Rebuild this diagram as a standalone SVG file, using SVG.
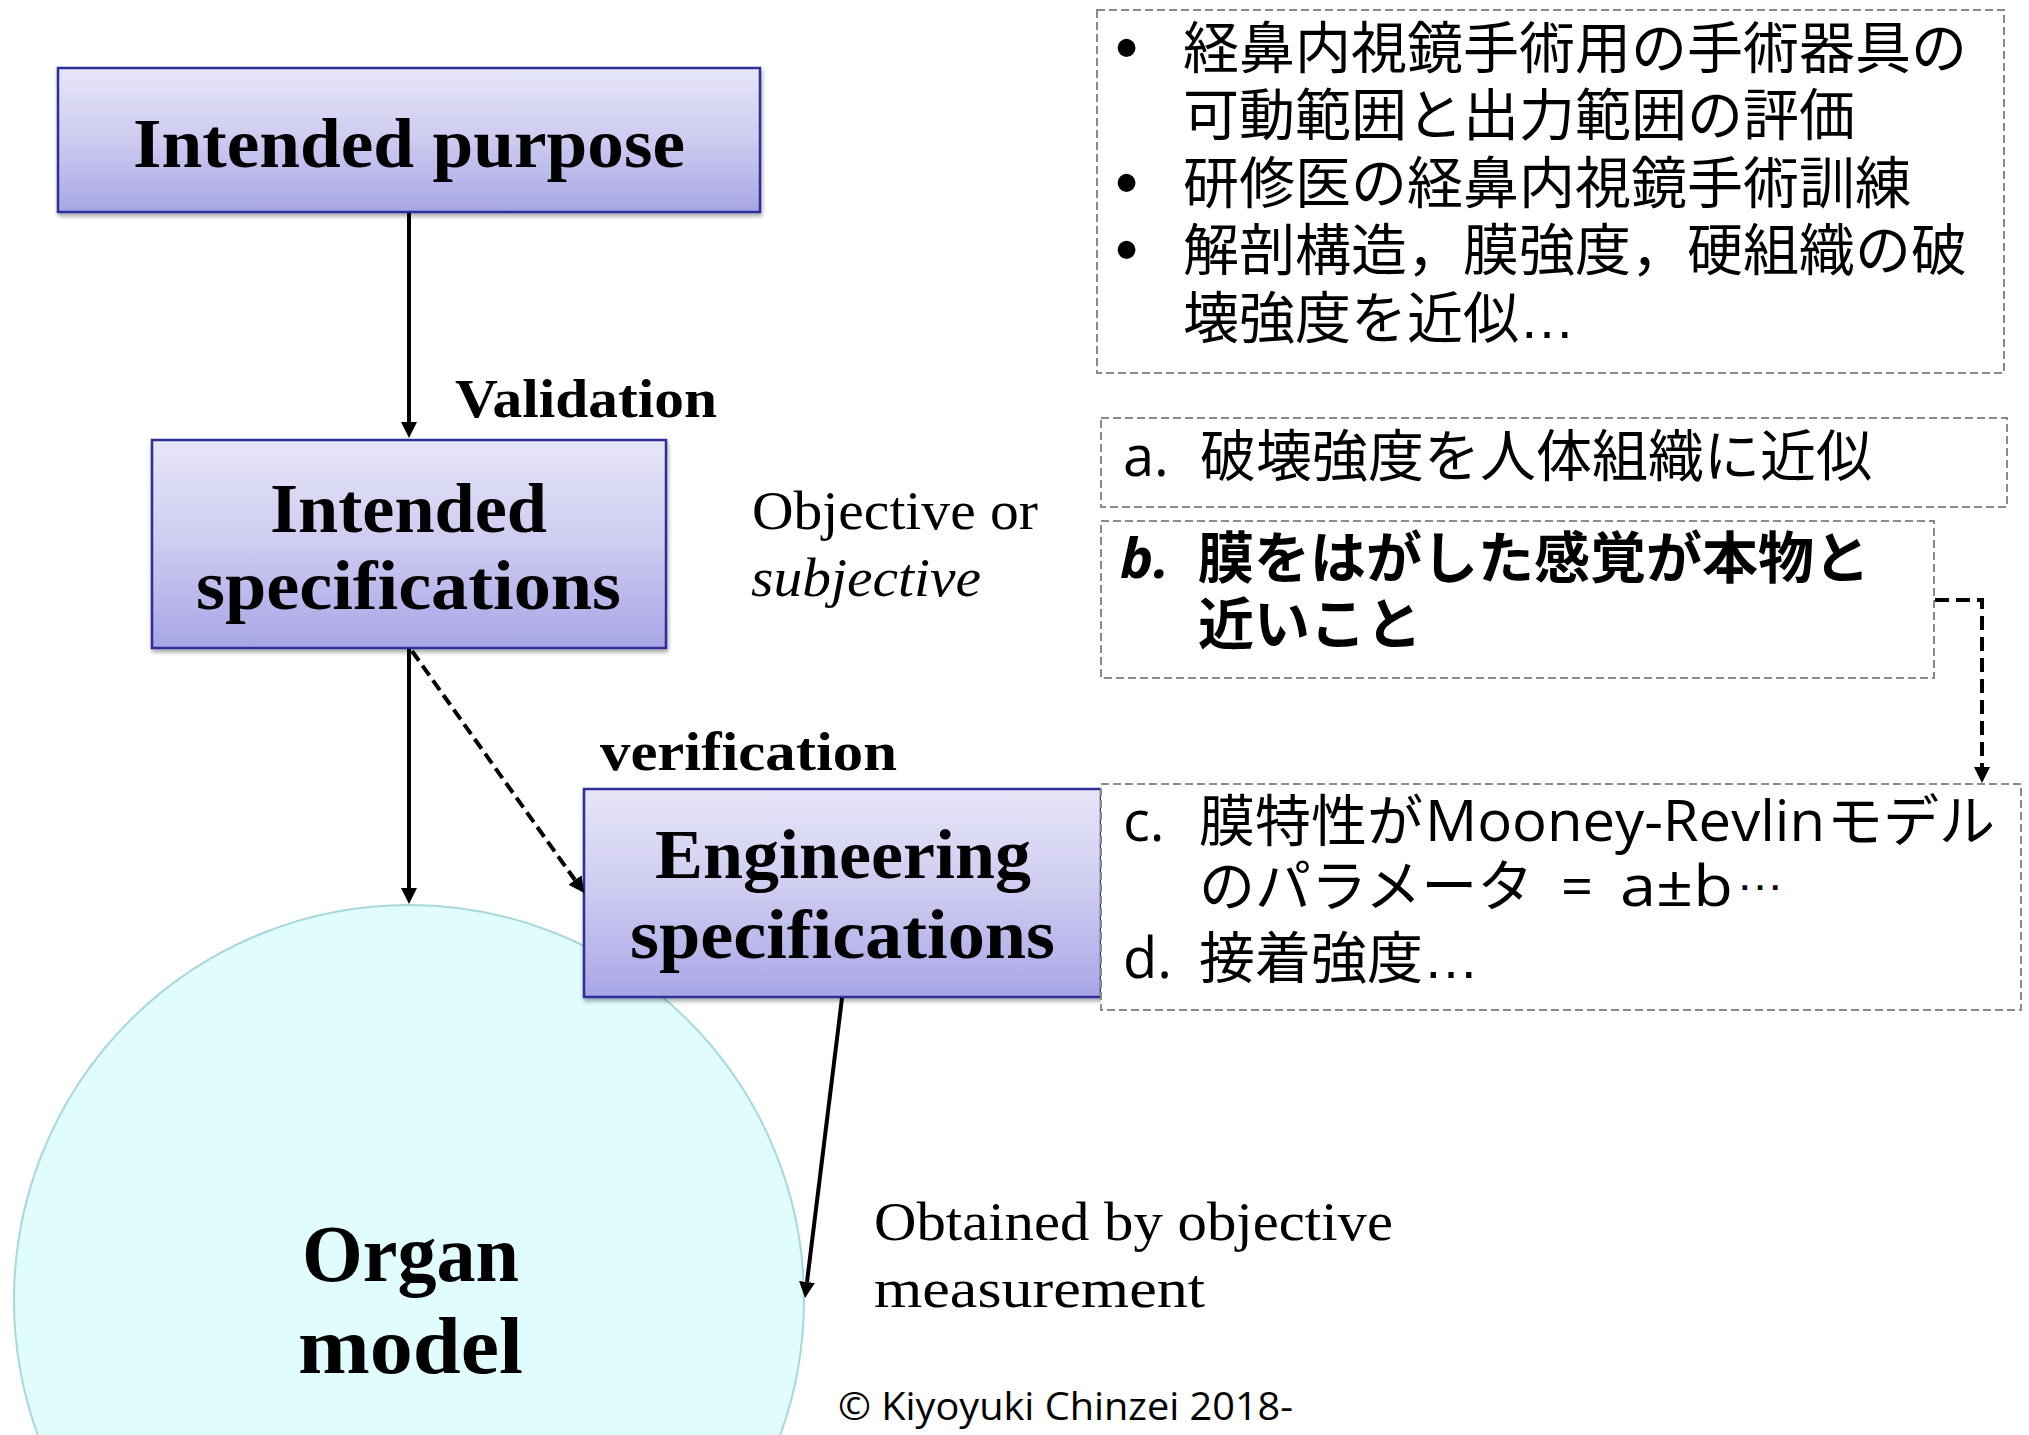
<svg xmlns="http://www.w3.org/2000/svg" width="2029" height="1435" viewBox="0 0 2029 1435">
<defs>
<linearGradient id="boxGrad" x1="0" y1="0" x2="0" y2="1">
<stop offset="0" stop-color="#E6E6F8"/>
<stop offset="0.5" stop-color="#CDCBF0"/>
<stop offset="1" stop-color="#A8A5E6"/>
</linearGradient>
<filter id="shadow" x="-5%" y="-5%" width="110%" height="120%">
<feDropShadow dx="1" dy="3" stdDeviation="2" flood-color="#000" flood-opacity="0.35"/>
</filter>
<marker id="head" viewBox="0 0 16 16" refX="0" refY="8" markerWidth="16" markerHeight="16" markerUnits="userSpaceOnUse" orient="auto">
<path d="M0,0 L16,8 L0,16 z" fill="#000"/>
</marker>
</defs>
<style>
.box{fill:url(#boxGrad);stroke:#2F2F98;stroke-width:2.5;filter:url(#shadow)}
.dbox{fill:#fff;stroke:#8A8A8A;stroke-width:2;stroke-dasharray:8 4}
.title{font-family:"Liberation Serif",serif;font-weight:bold;fill:#000}
.lbl{font-family:"Liberation Serif",serif;fill:#000}
.jp{font-family:"Noto Sans CJK JP",sans-serif;font-size:56px;fill:#000}
.lat{font-family:"Open Sans","Noto Sans CJK JP",sans-serif;font-size:56px;fill:#000}
.bul{font-family:"Liberation Sans",sans-serif;font-size:66px;fill:#000}
.dots{font-family:"Liberation Sans",sans-serif}
.conn{fill:none;stroke:#000;stroke-width:4}
.dash{stroke-dasharray:12 6}
</style>

<rect width="2029" height="1435" fill="#fff"/>

<g id="organ-model">
<circle cx="409" cy="1300" r="395" fill="#E0FCFD" stroke="#A8D8DB" stroke-width="2"/>
<text class="title" font-size="80"><tspan x="302" y="1281" textLength="217" lengthAdjust="spacingAndGlyphs">Organ</tspan><tspan x="298" y="1373" textLength="225" lengthAdjust="spacingAndGlyphs">model</tspan></text>
</g>

<g id="intended-purpose">
<rect class="box" x="58" y="68" width="702" height="144"/>
<text class="title" x="133" y="167" font-size="70" textLength="552" lengthAdjust="spacingAndGlyphs">Intended purpose</text>
</g>

<g id="intended-specifications">
<rect class="box" x="152" y="440" width="514" height="208"/>
<text class="title" font-size="70"><tspan x="270" y="532" textLength="277" lengthAdjust="spacingAndGlyphs">Intended</tspan><tspan x="196" y="609" textLength="425" lengthAdjust="spacingAndGlyphs">specifications</tspan></text>
</g>

<g id="engineering-specifications">
<rect class="box" x="584" y="789" width="517" height="208"/>
<text class="title" font-size="70"><tspan x="655" y="878" textLength="376" lengthAdjust="spacingAndGlyphs">Engineering</tspan><tspan x="630" y="958" textLength="425" lengthAdjust="spacingAndGlyphs">specifications</tspan></text>
</g>

<g id="purpose-notes">
<rect class="dbox" x="1097" y="10" width="907" height="363"/>
<text class="bul" x="1115" y="70">•</text>
<text class="jp"><tspan x="1183" y="68">経鼻内視鏡手術用の手術器具の</tspan><tspan x="1183" y="135">可動範囲と出力範囲の評価</tspan></text>
<text class="bul" x="1115" y="205">•</text>
<text class="jp" x="1183" y="203">研修医の経鼻内視鏡手術訓練</text>
<text class="bul" x="1115" y="272">•</text>
<text class="jp"><tspan x="1183" y="270">解剖構造，膜強度，硬組織の破</tspan><tspan x="1183" y="338">壊強度を近似<tspan class="dots">…</tspan></tspan></text>
</g>

<g id="spec-a">
<rect class="dbox" x="1101" y="418" width="906" height="89"/>
<text class="lat" x="1123" y="476">a.</text>
<text class="jp" x="1200" y="476">破壊強度を人体組織に近似</text>
</g>

<g id="spec-b">
<rect class="dbox" x="1101" y="521" width="833" height="157"/>
<text class="lat" x="1120" y="578" font-weight="bold" font-style="italic">b.</text>
<text class="jp" font-weight="bold"><tspan x="1198" y="578">膜をはがした感覚が本物と</tspan><tspan x="1198" y="644">近いこと</tspan></text>
</g>

<g id="spec-cd">
<rect class="dbox" x="1101" y="784" width="920" height="226"/>
<text class="lat" x="1123" y="841">c.</text>
<text class="jp"><tspan x="1199" y="841">膜特性が</tspan><tspan class="lat" x="1425" y="841" textLength="400" lengthAdjust="spacingAndGlyphs">Mooney-Revlin</tspan><tspan x="1827" y="841">モデル</tspan><tspan x="1199" y="906">のパラメータ</tspan><tspan class="lat" x="1561" y="906">=</tspan><tspan class="lat" x="1620" y="906" textLength="113" lengthAdjust="spacingAndGlyphs">a±b</tspan><tspan class="dots" x="1736" y="890" font-size="44" textLength="48" lengthAdjust="spacingAndGlyphs">…</tspan></text>
<text class="lat" x="1123" y="978">d.</text>
<text class="jp" x="1199" y="978">接着強度<tspan class="dots">…</tspan></text>
</g>

<g id="labels">
<text class="title" x="455" y="417" font-size="54" textLength="262" lengthAdjust="spacingAndGlyphs">Validation</text>
<text class="title" x="600" y="770" font-size="54" textLength="297" lengthAdjust="spacingAndGlyphs">verification</text>
<text class="lbl" font-size="54"><tspan x="752" y="529" textLength="286" lengthAdjust="spacingAndGlyphs">Objective or</tspan><tspan x="751" y="596" font-style="italic" textLength="230" lengthAdjust="spacingAndGlyphs">subjective</tspan></text>
<text class="lbl" font-size="54"><tspan x="874" y="1240" textLength="519" lengthAdjust="spacingAndGlyphs">Obtained by objective</tspan><tspan x="874" y="1307" textLength="331" lengthAdjust="spacingAndGlyphs">measurement</tspan></text>
<text x="838" y="1420" font-family="Open Sans, Liberation Sans, sans-serif" font-size="38" textLength="455" lengthAdjust="spacingAndGlyphs" fill="#000">© Kiyoyuki Chinzei 2018-</text>
</g>

<g id="connectors">
<path class="conn" d="M409,213 L409,422" marker-end="url(#head)"/>
<path class="conn" d="M409,649 L409,888" marker-end="url(#head)"/>
<path class="conn dash" stroke-width="4.5" d="M412,651 L575,880" marker-end="url(#head)"/>
<path class="conn" d="M842,998 L807,1282" marker-end="url(#head)"/>
<path class="conn" stroke-width="5.5" stroke-dasharray="14 7" d="M1935,600 L1982,600 L1982,767" marker-end="url(#head)"/>
</g>
</svg>
